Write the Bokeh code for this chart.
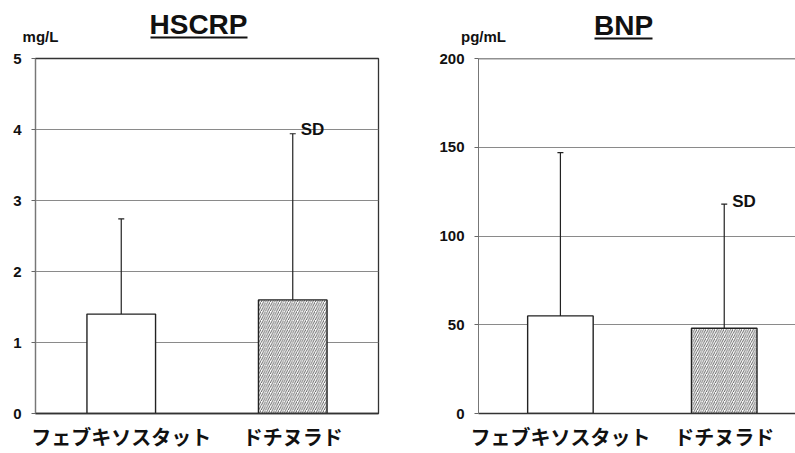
from bokeh.plotting import figure
from bokeh.layouts import row, column
from bokeh.models import (Range1d, FixedTicker, Label, Whisker, TeeHead, Span,
                          ColumnDataSource)
from bokeh.embed import file_html
from bokeh.resources import INLINE

# Group names and summary values (mean and SD)
drugs = ["フェブキソスタット", "ドチヌラド"]
hscrp_mean = [1.4, 1.6]
hscrp_sd = [1.34, 2.34]
bnp_mean = [55, 48]
bnp_sd = [92, 70]
hscrp_ticks = [0, 1, 2, 3, 4, 5]
bnp_ticks = [0, 50, 100, 150, 200]
bar_hatch = [" ", "/"]

LATIN = "Liberation Sans"
CJK = "Noto Sans CJK JP"
INK = "#111111"
PAGE_W = 795
HEAD_H = 50


def header():
    """Strip across the top holding both underlined titles and the units.
    Coordinates here are pixels from the strip's top-left corner."""
    h = figure(width=PAGE_W, height=HEAD_H, x_range=Range1d(0, PAGE_W),
               y_range=Range1d(HEAD_H, 0), output_backend="svg",
               toolbar_location=None, x_axis_location=None,
               y_axis_location=None, min_border=0)
    h.grid.visible = False
    h.outline_line_color = None
    h.background_fill_color = "white"
    h.border_fill_color = "white"
    # (title, title x, title y, unit, unit x, unit y, underline x0, x1, y)
    specs = [("HSCRP", 198, 24, "mg/L", 40, 36, 150, 247, 37),
             ("BNP", 623, 25, "pg/mL", 483, 36, 594, 652, 38)]
    for title, tx, ty, unit, ux, uy, u0, u1, uyl in specs:
        h.add_layout(Label(x=tx, y=ty, text=title, text_align="center",
                           text_baseline="middle", text_font=LATIN,
                           text_font_style="bold", text_font_size="28px",
                           text_color=INK))
        h.segment(x0=[u0], x1=[u1], y0=[uyl], y1=[uyl], line_color=INK,
                  line_width=2)
        h.add_layout(Label(x=ux, y=uy, text=unit, text_align="center",
                           text_baseline="middle", text_font=LATIN,
                           text_font_style="bold", text_font_size="15px",
                           text_color=INK))
    return h


def chart(means, sds, ticks, width, border_left, border_right, x_end, sd_dy,
          boxed):
    xs = [i + 0.5 for i in range(len(drugs))]
    upper = [m + s for m, s in zip(means, sds)]
    ymax = ticks[-1]
    p = figure(width=width, height=453 - HEAD_H, x_range=Range1d(0, x_end),
               y_range=Range1d(ticks[0], ymax), output_backend="svg",
               toolbar_location=None, min_border_left=border_left,
               min_border_right=border_right, min_border_top=58 - HEAD_H,
               min_border_bottom=40)
    p.background_fill_color = "white"
    p.border_fill_color = "white"

    src = ColumnDataSource(dict(x=xs, top=means, upper=upper, lower=means,
                                hatch=bar_hatch))
    p.vbar(x="x", top="top", bottom=0, width=0.4, source=src,
           fill_color="white", line_color="#222222", line_width=1.4,
           hatch_pattern="hatch", hatch_color="#3a3a3a", hatch_scale=4.5,
           hatch_weight=0.8)

    p.add_layout(Whisker(source=src, base="x", upper="upper", lower="lower",
                         line_color="#222222", line_width=1.2,
                         upper_head=TeeHead(size=6, line_color="#222222",
                                            line_width=1.2),
                         lower_head=None))

    p.xaxis.ticker = FixedTicker(ticks=xs)
    p.xaxis.major_label_overrides = {x: d for x, d in zip(xs, drugs)}
    p.xaxis.major_tick_out = 0
    p.xaxis.major_tick_in = 0
    p.xaxis.minor_tick_out = 0
    p.xaxis.axis_line_color = "#333333"
    p.xaxis.axis_line_width = 1.5
    p.xaxis.major_label_text_font = CJK
    p.xaxis.major_label_text_font_style = "bold"
    p.xaxis.major_label_text_font_size = "20px"
    p.xaxis.major_label_text_color = INK
    p.xaxis.major_label_standoff = 8

    p.yaxis.ticker = FixedTicker(ticks=ticks)
    p.yaxis.major_tick_out = 4
    p.yaxis.major_tick_in = 0
    p.yaxis.minor_tick_out = 0
    p.yaxis.major_tick_line_color = "#666666"
    p.yaxis.axis_line_color = "#777777"
    p.yaxis.major_label_text_font = LATIN
    p.yaxis.major_label_text_font_style = "bold"
    p.yaxis.major_label_text_font_size = "15px"
    p.yaxis.major_label_text_color = INK
    p.yaxis.major_label_standoff = 10

    p.xgrid.visible = False
    p.ygrid.grid_line_color = "#8a8a8a"
    p.ygrid.grid_line_width = 1

    if boxed:
        p.outline_line_color = "#333333"
        p.outline_line_width = 1.3
    else:
        p.outline_line_color = None
        p.add_layout(Span(location=ymax, dimension="width",
                          line_color="#222222", line_width=1.5))

    p.add_layout(Label(x=xs[1], y=upper[1], x_offset=8, y_offset=sd_dy,
                       text="SD", text_align="left", text_baseline="middle",
                       text_font=LATIN, text_font_style="bold",
                       text_font_size="17px", text_color=INK))
    return p


left = chart(hscrp_mean, hscrp_sd, hscrp_ticks, 400, 35, 22, 2.0, 4, True)
right = chart(bnp_mean, bnp_sd, bnp_ticks, 395, 78, 0, 1.935, 3, False)

layout = column(header(), row(left, right))
open("out.html", "w").write(file_html(layout, INLINE))
